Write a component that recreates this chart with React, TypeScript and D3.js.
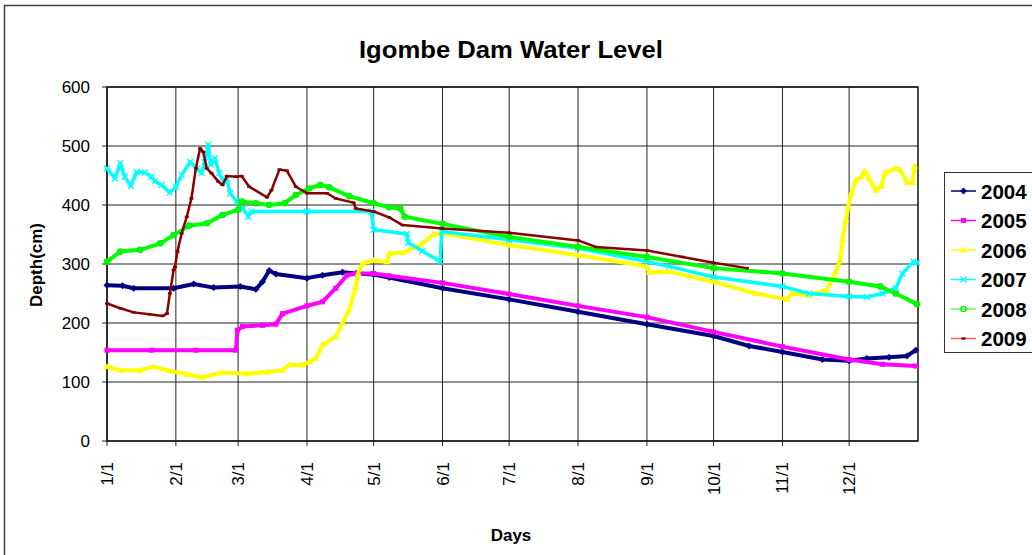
import React from 'react';
import * as d3 from 'd3';

// day-of-year (0 = Jan 1) and depth in cm
const y2004: [number, number][] = [
  [0, 264], [7, 263], [12, 259], [30, 259], [39, 266], [48, 260], [60, 262], [67, 257],
  [70, 270], [73, 289], [76, 283], [90, 276], [97, 281], [106, 286], [112, 284], [120, 282],
  [127, 277], [151, 259], [181, 240], [212, 219], [243, 198], [273, 178], [289, 161],
  [304, 151], [322, 138], [334, 136], [342, 140], [352, 142], [360, 144], [364, 154],
];
const y2005: [number, number][] = [
  [0, 154], [20, 154], [40, 154], [58, 154], [58.7, 188], [61, 194], [70, 196], [76, 198],
  [79, 216], [90, 229], [97, 236], [103, 259], [108, 281], [112, 284], [120, 284], [127, 280],
  [151, 268], [181, 249], [212, 229], [243, 210], [273, 185], [304, 160], [334, 138],
  [349, 130], [364, 127],
];
const y2006: [number, number][] = [
  [0, 126], [6, 120], [15, 120], [21, 126], [28, 119], [36, 113], [43, 108], [52, 116],
  [63, 114], [72, 117], [79, 120], [82, 129], [88, 129], [91, 134], [94, 140], [97, 163],
  [103, 177], [106, 200], [109, 222], [112, 262], [113, 284], [115, 301], [120, 306],
  [126, 304], [127, 318], [133, 319], [141, 332], [147, 351], [151, 352], [181, 332],
  [212, 315], [243, 296], [244, 286], [253, 287], [273, 270], [292, 250], [306, 240],
  [308, 250], [316, 247], [324, 256], [328, 287], [330, 307], [331, 342], [332.5, 375],
  [333.6, 397], [335, 420], [337, 442], [339.6, 448], [341, 458], [343, 445], [346, 425],
  [348.6, 432], [350, 454], [355, 462], [357, 460], [360, 438], [362.5, 438], [363.5, 466],
];
const y2007: [number, number][] = [
  [0, 462], [3.6, 445], [6, 471], [8, 448], [10.7, 432], [13.4, 456], [17, 455], [20, 448],
  [21.6, 440], [24.6, 434], [28.3, 421], [31, 431], [33.6, 451], [37.4, 473], [40.4, 462],
  [42.6, 454], [44, 473], [45.6, 502], [46.7, 468], [48.6, 479], [50.5, 454], [52.4, 440],
  [53.9, 445], [55.4, 420], [58.4, 406], [61.3, 394], [63.6, 380], [65, 389], [90, 389],
  [119, 389], [120, 358], [135, 351], [135.5, 336], [142, 322], [150, 304], [150.6, 355],
  [181, 341], [212, 327], [243, 304], [253, 296], [273, 278], [304, 262], [316, 250],
  [334, 245], [342, 244], [349, 250], [355, 259], [358, 284], [363, 304], [364.5, 302],
];
const y2008: [number, number][] = [
  [0, 304], [6, 321], [15, 324], [24, 335], [30, 349], [37, 365], [45, 369], [52, 383],
  [59, 392], [60.6, 406], [67, 403], [73, 400], [80, 403], [85, 417], [91, 428], [96, 434],
  [100, 430], [109, 415], [120, 403], [127, 396], [132, 394], [134, 380], [151, 368],
  [181, 346], [212, 329], [243, 312], [273, 293], [304, 284], [334, 270], [348, 262],
  [355, 250], [364.5, 232],
];
const y2009: [number, number][] = [
  [0, 233], [6, 225], [12, 218], [19, 215], [25, 212], [27, 216], [28.3, 250], [30, 290],
  [30.6, 295], [31.7, 321], [33.6, 352], [35.9, 380], [38, 411], [40, 462], [41.9, 496],
  [43.3, 490], [44.9, 462], [47, 454], [50, 440], [52, 434], [54, 449], [58, 448],
  [60.6, 449], [64, 431], [72, 413], [74, 425], [77.6, 460], [81, 458], [85, 431], [90, 420],
  [99, 420], [103, 411], [111, 404], [112, 394], [120, 389], [127, 379], [133, 366],
  [151, 360], [181, 353], [212, 340], [220, 329], [243, 323], [259, 312], [273, 302],
  [288, 293],
];

const monthDays = [0, 31, 59, 90, 120, 151, 181, 212, 243, 273, 304, 334];
const monthLabels = ['1/1', '2/1', '3/1', '4/1', '5/1', '6/1', '7/1', '8/1', '9/1', '10/1', '11/1', '12/1'];
const yTicks = [0, 100, 200, 300, 400, 500, 600];

const series = [
  { name: '2004', data: y2004, line: '#000080', mark: '#000080', shape: 'diamond', w: 4 },
  { name: '2005', data: y2005, line: '#ff00ff', mark: '#ff00ff', shape: 'square', w: 4 },
  { name: '2006', data: y2006, line: '#ffff00', mark: '#ffff00', shape: 'triangle', w: 4 },
  { name: '2007', data: y2007, line: '#00ffff', mark: '#00ffff', shape: 'cross', w: 3.5 },
  { name: '2008', data: y2008, line: '#00ff00', mark: '#00ee00', shape: 'circle', w: 4 },
  { name: '2009', data: y2009, line: '#8b0000', mark: '#800000', shape: 'dash', w: 2.5 },
];

const FONT = '"Liberation Sans", Arial, sans-serif';

function Marker({ shape, x, y, color }: { shape: string; x: number; y: number; color: string }) {
  if (shape === 'diamond')
    return <path d={`M${x},${y - 3.5}L${x + 3.5},${y}L${x},${y + 3.5}L${x - 3.5},${y}Z`} fill={color} />;
  if (shape === 'square') return <rect x={x - 2.5} y={y - 2.5} width={5} height={5} fill={color} />;
  if (shape === 'triangle')
    return <path d={`M${x},${y - 3.5}L${x + 3.5},${y + 2.5}L${x - 3.5},${y + 2.5}Z`} fill={color} />;
  if (shape === 'cross')
    return (
      <path
        d={`M${x - 3},${y - 3}L${x + 3},${y + 3}M${x - 3},${y + 3}L${x + 3},${y - 3}`}
        stroke={color}
        strokeWidth={1.3}
      />
    );
  if (shape === 'circle') return <circle cx={x} cy={y} r={2.6} fill="none" stroke={color} strokeWidth={1.4} />;
  return <rect x={x - 2} y={y - 1.2} width={4} height={2.4} fill={color} />;
}

export default function App() {
  const x = d3.scaleLinear().domain([0, 365]).range([107, 918]);
  const y = d3.scaleLinear().domain([0, 600]).range([441, 87]);
  const line = d3
    .line<[number, number]>()
    .x((d) => x(d[0]))
    .y((d) => y(d[1]));

  const legendY = (i: number) => 191 + i * 29.5;

  return (
    <div style={{ position: 'fixed', left: 0, top: 0 }}>
      <svg width={1032} height={555} style={{ display: 'block', background: '#fff' }}>
        {/* chart area frame */}
        <path d="M4.5,555 L4.5,5.5 L1032,5.5" fill="none" stroke="#404040" strokeWidth={1.5} />

        <text x={511} y={58} textAnchor="middle" fontFamily={FONT} fontWeight="bold" fontSize={23}
          textLength={304} lengthAdjust="spacingAndGlyphs">
          Igombe Dam Water Level
        </text>

        {/* grid */}
        {yTicks.map((t) => (
          <g key={'y' + t}>
            <line x1={102} x2={918} y1={y(t)} y2={y(t)} stroke="#222" strokeWidth={1} />
            <text x={90} y={y(t) + 6} textAnchor="end" fontFamily={FONT} fontSize={17}>
              {t}
            </text>
          </g>
        ))}
        {monthDays.map((d, i) => (
          <g key={'x' + d}>
            <line x1={x(d)} x2={x(d)} y1={87} y2={446} stroke="#222" strokeWidth={1} />
            <text
              transform={`translate(${x(d) + 6},${462}) rotate(-90)`}
              textAnchor="end"
              fontFamily={FONT}
              fontSize={17}
            >
              {monthLabels[i]}
            </text>
          </g>
        ))}
        <rect x={107} y={87} width={811} height={354} fill="none" stroke="#111" strokeWidth={1.5} />

        {/* series */}
        {series.map((s) => (
          <g key={s.name}>
            <path d={line(s.data) || ''} fill="none" stroke={s.line} strokeWidth={s.w}
              strokeLinejoin="round" strokeLinecap="round" />
            {s.data.map((d, j) => (
              <Marker key={j} shape={s.shape} x={x(d[0])} y={y(d[1])} color={s.mark} />
            ))}
          </g>
        ))}

        {/* axis titles */}
        <text transform="translate(42,265) rotate(-90)" textAnchor="middle" fontFamily={FONT}
          fontWeight="bold" fontSize={17}>
          Depth(cm)
        </text>
        <text x={511} y={541} textAnchor="middle" fontFamily={FONT} fontWeight="bold" fontSize={17}>
          Days
        </text>

        {/* legend */}
        <rect x={944.5} y={172.5} width={100} height={180} fill="#fff" stroke="#333" strokeWidth={1} />
        {series.map((s, i) => (
          <g key={'lg' + s.name}>
            <line x1={951} x2={976} y1={legendY(i)} y2={legendY(i)}
              stroke={s.name === '2009' ? '#f06060' : s.name === '2008' ? '#60ff60' : s.line}
              strokeWidth={1.5} />
            <Marker shape={s.shape} x={963.5} y={legendY(i)} color={s.mark} />
            <text x={981} y={legendY(i) + 7.5} fontFamily={FONT} fontWeight="bold" fontSize={20.5}>
              {s.name}
            </text>
          </g>
        ))}
      </svg>
    </div>
  );
}
